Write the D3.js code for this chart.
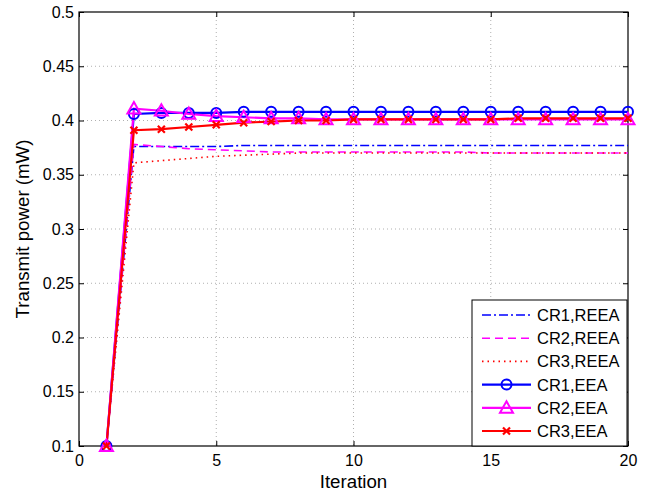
<!DOCTYPE html>
<html>
<head>
<meta charset="utf-8">
<script src="https://cdn.jsdelivr.net/npm/d3@7"></script>
<style>
  body { margin: 0; background: #fff; }
  svg text { font-family: "Liberation Sans", Arial, sans-serif; }
</style>
</head>
<body>
<svg width="646" height="493"></svg>
<script>
// iterations and series values
var iterations = [1, 2, 3, 4, 5, 6, 7, 8, 9, 10, 11, 12, 13, 14, 15, 16, 17, 18, 19, 20];
var cr1Reea = [0.1, 0.376, 0.376, 0.376, 0.376, 0.377, 0.377, 0.377, 0.377, 0.377, 0.377, 0.377, 0.377, 0.377, 0.377, 0.377, 0.377, 0.377, 0.377, 0.377];
var cr2Reea = [0.1, 0.378, 0.376, 0.374, 0.373, 0.372, 0.371, 0.371, 0.371, 0.371, 0.371, 0.371, 0.371, 0.371, 0.370, 0.370, 0.370, 0.370, 0.370, 0.370];
var cr3Reea = [0.1, 0.361, 0.363, 0.365, 0.367, 0.368, 0.369, 0.370, 0.370, 0.370, 0.370, 0.370, 0.370, 0.370, 0.370, 0.370, 0.370, 0.370, 0.370, 0.370];
var cr1Eea = [0.1, 0.406, 0.407, 0.407, 0.407, 0.408, 0.408, 0.408, 0.408, 0.408, 0.408, 0.408, 0.408, 0.408, 0.408, 0.408, 0.408, 0.408, 0.408, 0.408];
var cr2Eea = [0.1, 0.411, 0.409, 0.406, 0.404, 0.403, 0.402, 0.402, 0.401, 0.401, 0.401, 0.401, 0.401, 0.401, 0.401, 0.401, 0.401, 0.401, 0.401, 0.401];
var cr3Eea = [0.1, 0.391, 0.392, 0.394, 0.396, 0.398, 0.399, 0.400, 0.400, 0.401, 0.401, 0.401, 0.401, 0.401, 0.401, 0.402, 0.402, 0.402, 0.402, 0.402];
var xTicks = [0, 5, 10, 15, 20];
var yTicks = [0.1, 0.15, 0.2, 0.25, 0.3, 0.35, 0.4, 0.45, 0.5];

var cfg = {
    left: 79, right: 628, top: 12, bottom: 446
};

var series = [
    {name: "CR1,REEA", values: cr1Reea, color: "#0000ff", dash: "9,3,2,3", marker: null},
    {name: "CR2,REEA", values: cr2Reea, color: "#ff00ff", dash: "8,5", marker: null},
    {name: "CR3,REEA", values: cr3Reea, color: "#ff0000", dash: "1.5,4", marker: null},
    {name: "CR1,EEA", values: cr1Eea, color: "#0000ff", dash: null, marker: "circle"},
    {name: "CR2,EEA", values: cr2Eea, color: "#ff00ff", dash: null, marker: "triangle"},
    {name: "CR3,EEA", values: cr3Eea, color: "#ff0000", dash: null, marker: "x"}
];

var svg = d3.select("svg");
var x = d3.scaleLinear().domain([0, 20]).range([cfg.left, cfg.right]);
var y = d3.scaleLinear().domain([0.1, 0.5]).range([cfg.bottom, cfg.top]);

// 网格
var grid = svg.append("g");
grid.selectAll("line.gx").data(xTicks.slice(1, -1)).enter().append("line")
    .attr("x1", function (d) { return x(d); }).attr("x2", function (d) { return x(d); })
    .attr("y1", cfg.top).attr("y2", cfg.bottom)
    .attr("stroke", "#b0b0b0").attr("stroke-width", 1).attr("stroke-dasharray", "1,3");
grid.selectAll("line.gy").data(yTicks.slice(1, -1)).enter().append("line")
    .attr("y1", function (d) { return y(d); }).attr("y2", function (d) { return y(d); })
    .attr("x1", cfg.left).attr("x2", cfg.right)
    .attr("stroke", "#b0b0b0").attr("stroke-width", 1).attr("stroke-dasharray", "1,3");

// 坐标轴
var xAxis = d3.axisBottom(x).tickValues(xTicks).tickSizeInner(-5).tickSizeOuter(0).tickPadding(9);
var yAxis = d3.axisLeft(y).tickValues(yTicks).tickSizeInner(-5).tickSizeOuter(0).tickPadding(5)
    .tickFormat(function (d) { return String(+d.toFixed(2)); });
svg.append("g").attr("transform", "translate(0," + cfg.bottom + ")").call(xAxis)
    .call(function (g) { g.select(".domain").remove(); });
svg.append("g").attr("transform", "translate(" + cfg.left + ",0)").call(yAxis)
    .call(function (g) { g.select(".domain").remove(); });
svg.selectAll(".tick text").attr("font-size", 16).attr("fill", "#000")
    .style("font-family", "'Liberation Sans', Arial, sans-serif");
svg.selectAll(".tick line").attr("stroke", "#000");

// top and right ticks
svg.append("g").attr("transform", "translate(0," + cfg.top + ")")
    .call(d3.axisTop(x).tickValues(xTicks).tickSizeInner(-5).tickSizeOuter(0).tickFormat(""))
    .call(function (g) { g.select(".domain").remove(); });
svg.append("g").attr("transform", "translate(" + cfg.right + ",0)")
    .call(d3.axisRight(y).tickValues(yTicks).tickSizeInner(-5).tickSizeOuter(0).tickFormat(""))
    .call(function (g) { g.select(".domain").remove(); });

svg.append("rect")
    .attr("x", cfg.left).attr("y", cfg.top)
    .attr("width", cfg.right - cfg.left).attr("height", cfg.bottom - cfg.top)
    .attr("fill", "none").attr("stroke", "#000").attr("stroke-width", 1.2);

// 画线
var line = d3.line()
    .x(function (d, i) { return x(iterations[i]); })
    .y(function (d) { return y(d); });

var drawMarker = function (g, type, color, cx, cy) {
    if (type === "circle") {
        g.append("circle").attr("cx", cx).attr("cy", cy).attr("r", 5)
            .attr("fill", "none").attr("stroke", color).attr("stroke-width", 2);
    } else if (type === "triangle") {
        var s = 6.5;
        g.append("path")
            .attr("d", "M" + cx + "," + (cy - s) + "L" + (cx + s) + "," + (cy + s * 0.75) + "L" + (cx - s) + "," + (cy + s * 0.75) + "Z")
            .attr("fill", "none").attr("stroke", color).attr("stroke-width", 2);
    } else if (type === "x") {
        var r = 3.5;
        g.append("path")
            .attr("d", "M" + (cx - r) + "," + (cy - r) + "L" + (cx + r) + "," + (cy + r) + "M" + (cx + r) + "," + (cy - r) + "L" + (cx - r) + "," + (cy + r))
            .attr("stroke", color).attr("stroke-width", 2.2);
    }
};

var plot = svg.append("g");
series.forEach(function (s) {
    plot.append("path")
        .attr("d", line(s.values))
        .attr("fill", "none")
        .attr("stroke", s.color)
        .attr("stroke-width", s.marker ? 2.2 : 1.6)
        .attr("stroke-dasharray", s.dash);
});
series.forEach(function (s) {
    if (!s.marker) return;
    s.values.forEach(function (v, i) {
        drawMarker(plot, s.marker, s.color, x(iterations[i]), y(v));
    });
});

// 图例
var lg = svg.append("g");
var lgX = 472, lgY = 300, lgW = 155, rowH = 23.2;
lg.append("rect").attr("x", lgX).attr("y", lgY).attr("width", lgW).attr("height", cfg.bottom - lgY)
    .attr("fill", "#fff").attr("stroke", "#000").attr("stroke-width", 1);
series.forEach(function (s, i) {
    var cy = lgY + 15 + i * rowH;
    lg.append("line").attr("x1", lgX + 10).attr("x2", lgX + 59)
        .attr("y1", cy).attr("y2", cy)
        .attr("stroke", s.color).attr("stroke-width", s.marker ? 2.2 : 1.6)
        .attr("stroke-dasharray", s.dash);
    if (s.marker) drawMarker(lg, s.marker, s.color, lgX + 34.5, cy);
    lg.append("text").attr("x", lgX + 65).attr("y", cy + 6)
        .attr("font-size", 16.5).attr("fill", "#000").text(s.name);
});

// 轴标题
svg.append("text").attr("x", (cfg.left + cfg.right) / 2).attr("y", 488)
    .attr("text-anchor", "middle").attr("font-size", 18.7).text("Iteration");
svg.append("text").attr("transform", "translate(29," + ((cfg.top + cfg.bottom) / 2) + ") rotate(-90)")
    .attr("text-anchor", "middle").attr("font-size", 18.7).text("Transmit power (mW)");
</script>
</body>
</html>
